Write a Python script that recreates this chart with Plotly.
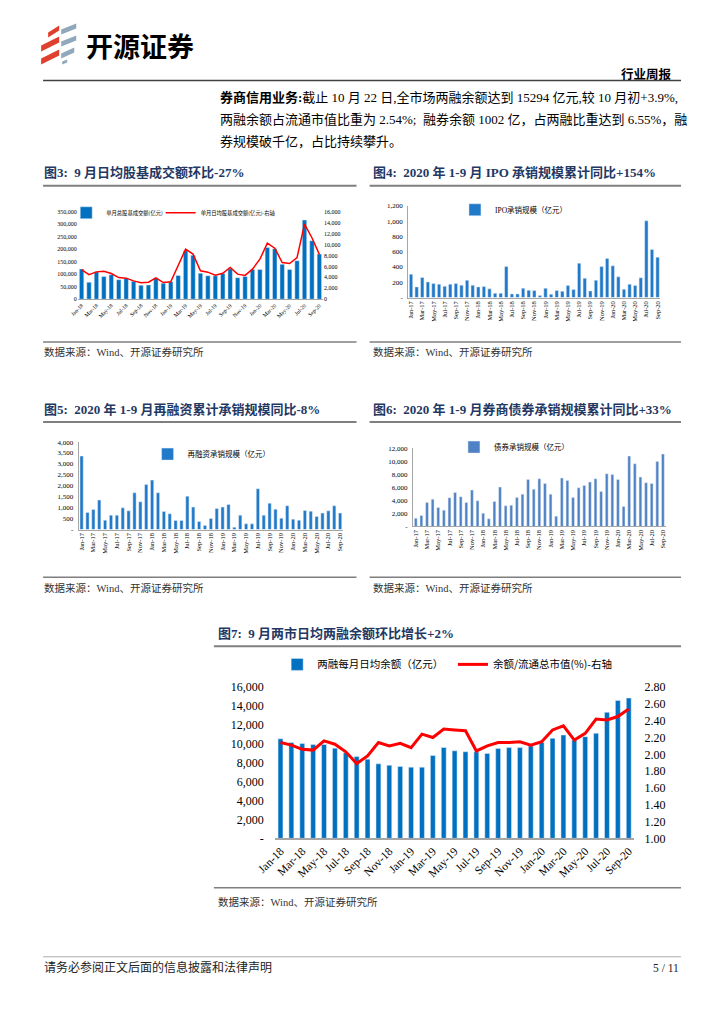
import plotly.graph_objects as go

W, H = 724, 1024
# map target picture pixels to figure paper coords (compensates the capture offset/scale seen)
SX, OX, SY, OY = 0.968, 21.0, 0.985, 6.5
def X(px): return ((px - OX) / SX) / W
def Y(py): return 1 - ((py - OY) / SY) / H

FONT = "Liberation Serif, Noto Sans CJK SC"
CJK = "Noto Sans CJK SC, Liberation Serif"

MON = ["Jan", "Feb", "Mar", "Apr", "May", "Jun", "Jul", "Aug", "Sep", "Oct", "Nov", "Dec"]
months_18_20 = [f"{m}-{y}" for y in ("18", "19", "20") for m in MON][:33]
months_17_20 = [f"{m}-{y}" for y in ("17", "18", "19", "20") for m in MON][:45]

# Fig 3: 股基成交额 (亿元)
turnover_total = [121000, 68000, 110000, 91000, 98000, 78000, 83000, 72000, 56000, 57000, 84000,
                  64000, 70000, 95000, 194000, 176000, 104000, 94000, 94000, 103000, 122000, 86000,
                  91000, 119000, 119000, 207000, 202000, 140000, 119000, 154000, 317000, 234000, 181000]
turnover_daily = [5400, 4500, 5000, 5100, 4700, 3950, 3850, 3350, 3000, 3100, 3900, 3050, 3180,
                  6150, 9160, 8250, 5200, 4950, 4400, 4750, 5800, 4580, 4350, 5500, 7330, 10260,
                  9340, 6720, 6530, 7630, 13740, 11250, 8200]
# Fig 4: IPO 承销规模 (亿元)
ipo = [305, 140, 262, 205, 183, 175, 148, 175, 183, 162, 227, 162, 140, 144, 114, 57, 57, 406, 48,
       48, 122, 96, 92, 26, 122, 44, 92, 83, 157, 105, 450, 253, 87, 227, 406, 511, 415, 271, 109,
       175, 157, 258, 1004, 629, 528]
# Fig 5: 再融资承销规模 (亿元)
refin = [3360, 780, 915, 1345, 425, 655, 655, 990, 855, 1680, 1265, 2060, 2260, 1680, 825, 720,
         410, 410, 1525, 1025, 365, 185, 505, 960, 1025, 1145, 105, 655, 260, 260, 1865, 655, 1205,
         930, 520, 1085, 475, 425, 870, 840, 595, 750, 855, 1085, 750]
# Fig 6: 债券承销规模 (亿元)
bond = [1250, 1690, 3690, 4200, 2920, 2510, 4410, 5230, 4560, 3690, 5590, 3950, 2050, 1180, 3850,
        6050, 3180, 3280, 4460, 4970, 7230, 5740, 7330, 6620, 4970, 1590, 7440, 7080, 4460, 5950,
        6310, 6820, 7330, 5390, 8100, 8000, 7230, 3080, 10820, 9640, 7590, 6720, 6620, 10000, 11130]
# Fig 7: 两融余额
margin_bal = [10530, 10140, 10040, 9930, 9930, 9540, 9050, 8650, 8380, 7880, 7740, 7600, 7530,
              7530, 8760, 9610, 9260, 9160, 9150, 8980, 9510, 9600, 9600, 9780, 10150, 10580,
              10930, 10400, 10760, 11110, 13330, 14580, 14840]
margin_ratio = [2.14, 2.11, 2.06, 2.05, 2.16, 2.12, 2.03, 1.89, 1.98, 2.14, 2.10, 2.13, 2.08,
                2.24, 2.20, 2.30, 2.29, 2.28, 2.04, 2.10, 2.14, 2.14, 2.15, 2.11, 2.15, 2.29,
                2.34, 2.17, 2.25, 2.42, 2.41, 2.45, 2.54]

def dash_ticks(maxv, step, zero="-"):
    vals = list(range(0, maxv + 1, step))
    txt = [zero if v == 0 else f"{v:,}" for v in vals]
    return vals, txt

fig = go.Figure()
fig.add_trace(go.Bar(x=months_18_20, y=turnover_total, name="单月总股基成交额(亿元)",
                     marker_color="#0070C0", width=0.6, xaxis="x", yaxis="y", legend="legend"))
fig.add_trace(go.Scatter(x=months_18_20, y=turnover_daily, name="单月日均股基成交额(亿元)-右轴",
                         mode="lines", line=dict(color="#FF0000", width=1.5),
                         xaxis="x", yaxis="y2", legend="legend6"))
fig.add_trace(go.Bar(x=months_17_20, y=ipo, name="IPO承销规模（亿元）", marker_color="#2179C9",
                     width=0.6, xaxis="x2", yaxis="y3", legend="legend2"))
fig.add_trace(go.Bar(x=months_17_20, y=refin, name="再融资承销规模（亿元）", marker_color="#2179C9",
                     width=0.55, xaxis="x3", yaxis="y4", legend="legend3"))
fig.add_trace(go.Bar(x=months_17_20, y=bond, name="债券承销规模（亿元）", marker_color="#4F82C4",
                     width=0.5, xaxis="x4", yaxis="y5", legend="legend4"))
fig.add_trace(go.Bar(x=months_18_20, y=margin_bal, name="两融每月日均余额（亿元）",
                     marker_color="#0070C0", width=0.45, xaxis="x5", yaxis="y6", legend="legend5"))
fig.add_trace(go.Scatter(x=months_18_20, y=margin_ratio, name="余额/流通总市值(%)-右轴",
                         mode="lines", line=dict(color="#FF0000", width=3),
                         xaxis="x5", yaxis="y7", legend="legend7"))

AX = dict(showgrid=False, zeroline=False, fixedrange=True)
AXT = dict(AX, ticks="outside", tickcolor="rgba(0,0,0,0)")

def xcat(dom, anchor, cats, angle, fs):
    return dict(AX, domain=[X(dom[0]), X(dom[1])], anchor=anchor, type="category",
                range=[-0.5, len(cats) - 0.5], tickmode="array", tickvals=cats[::2],
                ticktext=cats[::2], tickangle=angle, tickfont=dict(size=fs, family=FONT),
                showline=True, linecolor="#A6A6A6", linewidth=1, ticks="")

y3v, y3t = list(range(0, 350001, 50000)), [f"{v:,}" for v in range(0, 350001, 50000)]
y3rv, y3rt = list(range(0, 16001, 2000)), [f"{v:,}" for v in range(0, 16001, 2000)]
y4v, y4t = dash_ticks(1200, 200)
y5v, y5t = dash_ticks(4000, 500)
y6v, y6t = dash_ticks(12000, 2000)
y7v, y7t = dash_ticks(16000, 2000)
y7rv = [1.0, 1.2, 1.4, 1.6, 1.8, 2.0, 2.2, 2.4, 2.6, 2.8]

fig.update_layout(
    xaxis=xcat((79.6, 323.7), "y", months_18_20, -45, 5.5),
    yaxis=dict(AX, domain=[Y(298.3), Y(211)], anchor="x", range=[0, 350000], tickvals=y3v,
               ticktext=y3t, tickfont=dict(size=6)),
    yaxis2=dict(AX, overlaying="y", side="right", anchor="x", range=[0, 16000], tickvals=y3rv,
                ticktext=y3rt, tickfont=dict(size=6)),
    xaxis2=xcat((408.5, 659.5), "y3", months_17_20, -90, 6.5),
    yaxis3=dict(AXT, ticklen=3, domain=[Y(296.7), Y(205)], anchor="x2",
                range=[0, 1200], tickvals=y4v, ticktext=y4t, tickfont=dict(size=7),
                showline=True, linecolor="#A6A6A6"),
    xaxis3=xcat((80.4, 343.6), "y4", months_17_20, -90, 6.5),
    yaxis4=dict(AXT, ticklen=3, domain=[Y(528.3), Y(441)], anchor="x3",
                range=[0, 4000], tickvals=y5v, ticktext=y5t, tickfont=dict(size=7),
                showline=True, linecolor="#A6A6A6"),
    xaxis4=xcat((413.2, 664.8), "y5", months_17_20, -90, 6.5),
    yaxis5=dict(AXT, ticklen=3, domain=[Y(525.3), Y(447.3)], anchor="x4",
                range=[0, 12000], tickvals=y6v, ticktext=y6t, tickfont=dict(size=7),
                showline=True, linecolor="#A6A6A6"),
    xaxis5=dict(xcat((275.9, 633.4), "y6", months_18_20, -45, 11.5), linecolor="#A6A6A6",
                linewidth=1.5),
    yaxis6=dict(AXT, ticklen=8, domain=[Y(836.7), Y(685.7)], anchor="x5",
                range=[0, 16000], tickvals=y7v, ticktext=y7t, tickfont=dict(size=12)),
    yaxis7=dict(AXT, ticklen=7, overlaying="y6", side="right", anchor="x5",
                range=[1.0, 2.8], tickvals=y7rv, tickformat=".2f", tickfont=dict(size=12)),
)

LEG = dict(orientation="h", xanchor="left", yanchor="middle", bgcolor="rgba(0,0,0,0)",
           borderwidth=0, itemclick=False, itemdoubleclick=False)
fig.update_layout(
    showlegend=True,
    legend=dict(LEG, x=X(68), y=Y(212), font=dict(size=5.3, family=CJK)),
    legend6=dict(LEG, x=X(162), y=Y(212), font=dict(size=5.3, family=CJK)),
    legend2=dict(LEG, x=X(455), y=Y(209), font=dict(size=7.5, family=FONT)),
    legend3=dict(LEG, x=X(149), y=Y(453), font=dict(size=7.5, family=CJK)),
    legend4=dict(LEG, x=X(454), y=Y(446), font=dict(size=7.5, family=CJK)),
    legend5=dict(LEG, x=X(278), y=Y(663), font=dict(size=10.5, family=CJK)),
    legend7=dict(LEG, x=X(453), y=Y(663), font=dict(size=10.5, family=CJK)),
)

ann = []
def text(x, y, s, size, color="#000", anchor="left", family=FONT):
    ann.append(dict(x=X(x), y=Y(y), xref="paper", yref="paper", text=s, showarrow=False,
                    xanchor=anchor, yanchor="middle", font=dict(size=size, color=color, family=family)))

text(86, 45, "<b>开源证券</b>", 27, family="Noto Sans CJK SC")
text(673, 73, "<b>行业周报</b>", 12.5, anchor="right", family="Noto Sans CJK SC")
text(219, 97, "<b>券商信用业务:</b>截止 10 月 22 日,全市场两融余额达到 15294 亿元,较 10 月初+3.9%,", 13)
text(219, 119, "两融余额占流通市值比重为 2.54%;  融券余额 1002 亿，占两融比重达到 6.55%，融", 13)
text(219, 141, "券规模破千亿，占比持续攀升。", 13)

TC = "#1F3864"
text(44, 172, "<b>图3:  9 月日均股基成交额环比-27%</b>", 13, TC)
text(371, 172, "<b>图4:  2020 年 1-9 月 IPO 承销规模累计同比+154%</b>", 13, TC)
text(44, 408, "<b>图5:  2020 年 1-9 月再融资累计承销规模同比-8%</b>", 13, TC)
text(371, 408, "<b>图6:  2020 年 1-9 月券商债券承销规模累计同比+33%</b>", 13, TC)
text(217, 632, "<b>图7:  9 月两市日均两融余额环比增长+2%</b>", 13, TC)

SRC = "数据来源：Wind、开源证券研究所"
for (sx, sy) in [(44, 351), (371, 351), (44, 587), (371, 587), (217, 900)]:
    text(sx, sy, SRC, 10.5, "#333")

text(44, 966, "请务必参阅正文后面的信息披露和法律声明", 12, "#222")
text(680, 966, "5 / 11", 11.5, "#222", anchor="right")

shapes = []
def hline(x0, x1, y, w, c):
    shapes.append(dict(type="line", xref="paper", yref="paper", x0=X(x0), x1=X(x1), y0=Y(y),
                       y1=Y(y), line=dict(color=c, width=w)))

hline(45, 680, 80, 1.5, "#404040")
for (a, b) in [(45, 357), (370, 680)]:
    hline(a, b, 185, 2, "#7F7F7F")
    hline(a, b, 341, 1.5, "#7F7F7F")
    hline(a, b, 421, 2, "#7F7F7F")
    hline(a, b, 576, 1.5, "#7F7F7F")
hline(215, 680, 645, 2, "#7F7F7F")
hline(215, 680, 886, 1.5, "#7F7F7F")
hline(45, 680, 955, 0.8, "#999999")

def quad(x1, y1, x2, y2, t, c):
    pts = [(x1, y1), (x2, y2), (x2, y2 + t), (x1, y1 + t)]
    p = "M " + " L ".join(f"{X(a):.5f},{Y(b):.5f}" for a, b in pts) + " Z"
    shapes.append(dict(type="path", xref="paper", yref="paper", path=p, fillcolor=c,
                       line=dict(width=0)))

RED, GRY = "#E0412E", "#8FA8BC"
quad(50, 32, 61, 25, 5, RED)
quad(43, 45, 61, 36, 6, RED)
quad(43, 58, 61, 49, 6, RED)
quad(63, 29, 78, 23, 5, GRY)
quad(63, 41, 78, 35, 5, GRY)
quad(63, 53, 76, 47, 5, GRY)
quad(64, 61, 69, 59, 3, GRY)

fig.update_layout(annotations=ann, shapes=shapes, width=W, height=H, autosize=False,
                  margin=dict(l=0, r=0, t=0, b=0), paper_bgcolor="white", plot_bgcolor="white",
                  font=dict(family=FONT, color="#000"), barmode="overlay")

fig.write_html("out.html",
               post_script="document.documentElement.style.margin='0';document.body.style.margin='0';"
                           "document.body.style.overflow='hidden';document.documentElement.style.overflow='hidden';",
               config={"displayModeBar": False})
